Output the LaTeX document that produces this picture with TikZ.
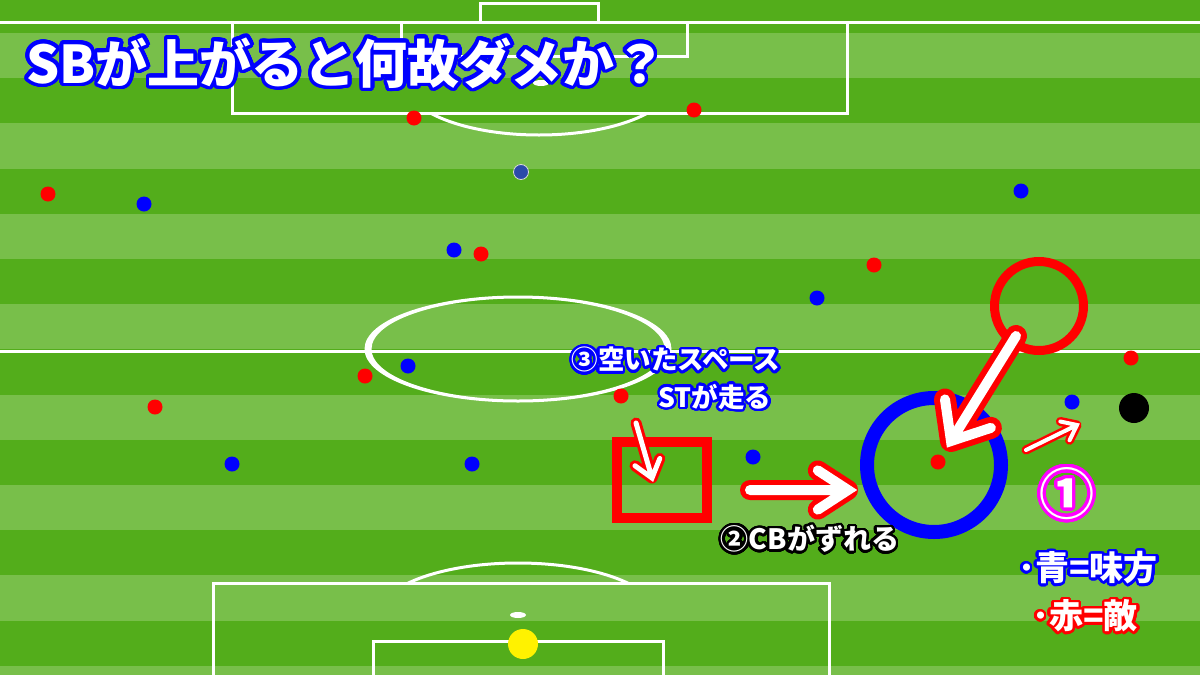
\documentclass[tikz,border=0pt]{standalone}
\usepackage{fontspec}
\usepackage{contour}
\usetikzlibrary{calc}
\newfontfamily\jp{Noto Sans CJK JP}
\definecolor{gdark}{RGB}{83,173,27}
\definecolor{glight}{RGB}{120,191,74}
\definecolor{pblue}{RGB}{43,75,169}
\definecolor{pmag}{RGB}{255,0,255}
\contournumber{40}
% #1 start, #2 tip, #3 arm length, #4 half angle, #5 inner width, #6 outer width
\newcommand\fatarrow[6]{%
  \draw[red, line width=#6, line cap=round, line join=round]
    (#1) -- (#2) ($(#2)!#3!#4:(#1)$) -- (#2) -- ($(#2)!#3!-#4:(#1)$);
  \draw[white, line width=#5, line cap=round, line join=miter]
    (#1) -- (#2) ($(#2)!#3!#4:(#1)$) -- (#2) -- ($(#2)!#3!-#4:(#1)$);
}
\begin{document}
\begin{tikzpicture}[x=1pt,y=-1pt,
  pline/.style={white, line width=3pt},
  reddot/.style={circle, fill=red, minimum size=15pt, inner sep=0pt},
  bluedot/.style={circle, fill=blue, minimum size=15pt, inner sep=0pt},
  lbl/.style={inner sep=0pt, text=white},
  jpfont/.style={font=\jp\bfseries\fontsize{#1pt}{#1pt}\selectfont}]
\useasboundingbox (0,0) rectangle (1200,675);
% pitch stripes
\fill[gdark] (0,0) rectangle (1200,675);
\foreach \k in {0,...,7}{
  \fill[glight] (0,33+90.4*\k) rectangle (1200,78.2+90.4*\k);
}
% top end
\draw[pline] (0,22) -- (1200,22);
\draw[pline] (480,22) -- (480,3) -- (598,3) -- (598,22);
\draw[pline] (401,22) -- (401,56) -- (687,56) -- (687,22);
\draw[pline] (232,22) -- (232,113) -- (847,113) -- (847,22);
\begin{scope}
  \clip (0,114) rectangle (1200,200);
  \draw[pline] (539,83) ellipse [x radius=133, y radius=52];
\end{scope}
\fill[white] (541,83) ellipse [x radius=8, y radius=3];
% halfway
\draw[pline] (0,351) -- (1200,351);
\fill[white, even odd rule] (518,349) ellipse [x radius=153.5, y radius=53.5]
  (518,349) ellipse [x radius=146.5, y radius=50.5];
% bottom end
\draw[pline] (213,677) -- (213,583) -- (829,583) -- (829,677);
\draw[pline] (373,677) -- (373,641) -- (663,641) -- (663,677);
\begin{scope}
  \clip (0,450) rectangle (1200,582);
  \draw[pline] (518,615) ellipse [x radius=139, y radius=52];
\end{scope}
\fill[white] (518,615) ellipse [x radius=8, y radius=3];
\node[circle, fill=yellow, minimum size=30pt, inner sep=0pt] (ball) at (523,644) {};
% players
\node[reddot] (r1) at (414,118) {};
\node[reddot] (r2) at (694,110) {};
\node[reddot] (r3) at (48,194) {};
\node[reddot] (r4) at (481,254) {};
\node[reddot] (r5) at (874,265) {};
\node[reddot] (r6) at (365,376) {};
\node[reddot] (r7) at (155,407) {};
\node[reddot] (r8) at (621,396) {};
\node[reddot] (r9) at (1131,358) {};
\node[reddot] (r10) at (938,462) {};
\node[circle, fill=pblue, draw=white!70!gray, line width=0.8pt, minimum size=15pt, inner sep=0pt] (bk) at (521,172) {};
\node[bluedot] (b1) at (144,204) {};
\node[bluedot] (b2) at (1021,191) {};
\node[bluedot] (b3) at (454,250) {};
\node[bluedot] (b4) at (817,298) {};
\node[bluedot] (b5) at (408,366) {};
\node[bluedot] (b6) at (232,464) {};
\node[bluedot] (b7) at (472,464) {};
\node[bluedot] (b8) at (753,457) {};
\node[bluedot] (b9) at (1072,402) {};
\node[circle, fill=black, minimum size=30pt, inner sep=0pt] (wing) at (1134,408) {};
% markers
\node[circle, draw=red, line width=9pt, minimum size=89pt, inner sep=0pt] (oldpos) at (1039,306) {};
\node[circle, draw=blue, line width=14pt, minimum size=134pt, inner sep=0pt] (newpos) at (934,465) {};
\node[draw=red, line width=10pt, minimum width=90pt, minimum height=76pt, inner sep=0pt] (space) at (662,480) {};
% arrows
\coordinate (bigA) at (1016,336);
\coordinate (bigB) at (951,441);
\coordinate (hA) at (750,490);
\coordinate (hB) at (848,490);
\coordinate (sA) at (636,423);
\coordinate (sB) at (652,478);
\coordinate (tA) at (1026,450);
\coordinate (tB) at (1077,425);
\fatarrow{bigA}{bigB}{42pt}{40}{10pt}{22pt}
\fatarrow{hA}{hB}{36pt}{33}{10pt}{20pt}
\fatarrow{sA}{sB}{21pt}{38}{5pt}{11pt}
\fatarrow{tA}{tB}{17pt}{38}{4pt}{9pt}
% texts
\node[lbl, jpfont=52, anchor=base west] (title) at (26,83)
  {\contourlength{3.5pt}\contour{blue}{SBが上がると何故ダメか？}};
\node[lbl, jpfont=26.5] (t3a) at (676,361)
  {\contourlength{2.4pt}\contour{blue}{③空いたスペース}};
\node[lbl, jpfont=26.5] (t3b) at (715,398)
  {\contourlength{2.4pt}\contour{blue}{STが走る}};
\node[lbl, jpfont=28] (t2) at (810,540)
  {\contourlength{2.4pt}\contour{black}{②CBがずれる}};
\node[lbl, jpfont=55] (t1) at (1067,495)
  {\contourlength{3pt}\contour{pmag}{①}};
\node[lbl, jpfont=34, anchor=west] (leg1) at (1018,569)
  {\contourlength{2.4pt}\contour{blue}{･青=味方}};
\node[lbl, jpfont=34, anchor=west] (leg2) at (1032,617)
  {\contourlength{2.4pt}\contour{red}{･赤=敵}};
\end{tikzpicture}
\end{document}
